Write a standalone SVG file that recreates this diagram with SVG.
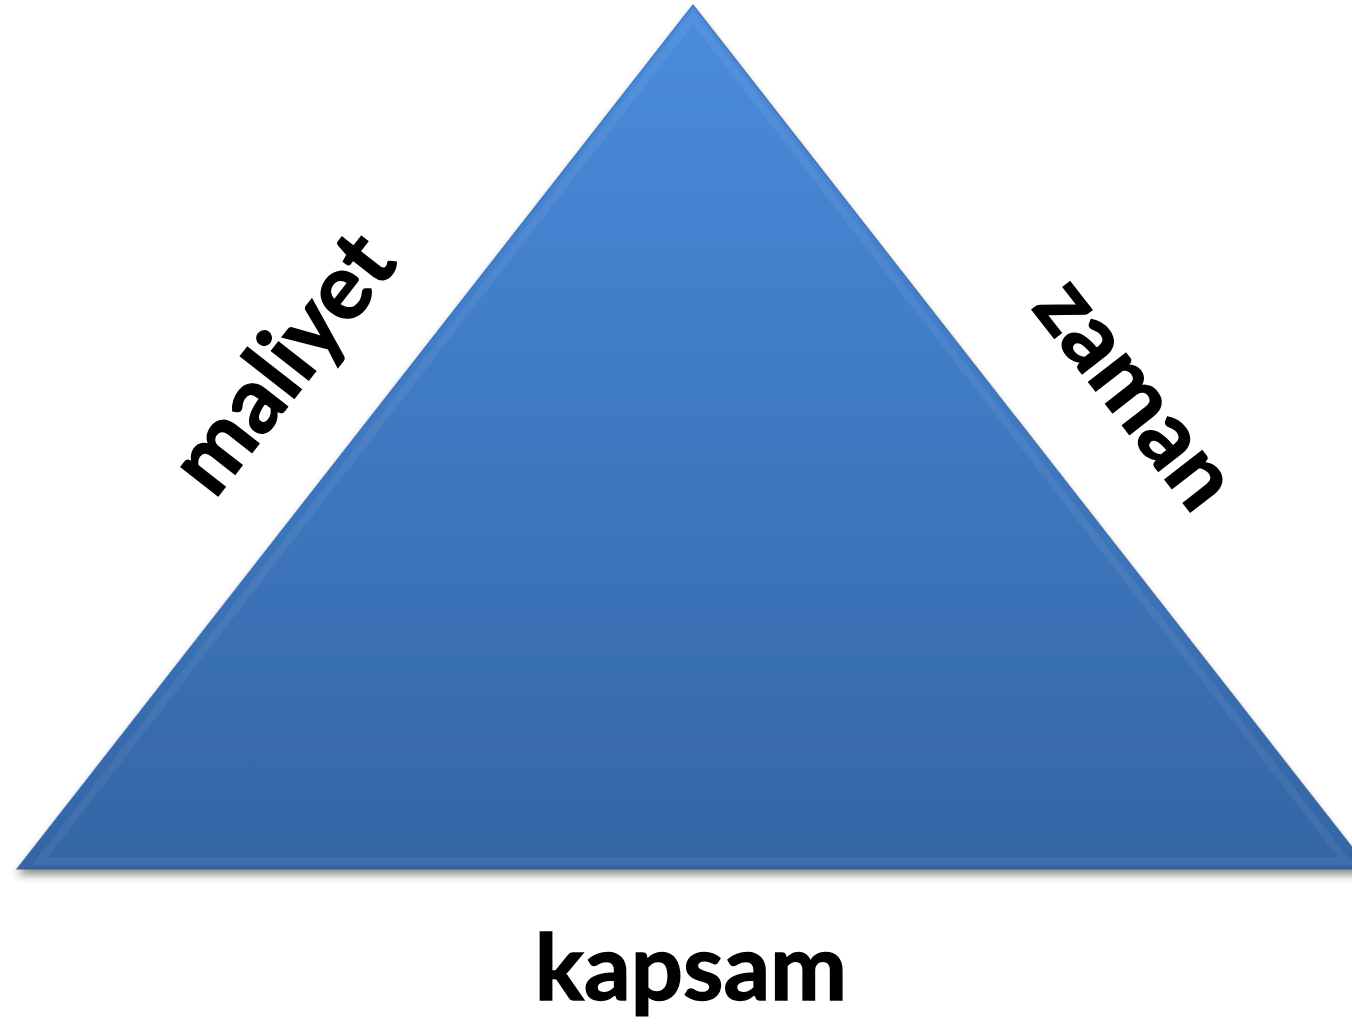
<svg xmlns="http://www.w3.org/2000/svg" width="1352" height="1026" viewBox="0 0 1352 1026">
  <style>
    .lbl { font-family: Lato, "Open Sans", "Liberation Sans", sans-serif; font-weight: bold; fill: #000; stroke: #000; stroke-width: 1.4; text-anchor: middle; }
  </style>
  <defs>
    <linearGradient id="fillGrad" x1="0" y1="0" x2="0" y2="1">
      <stop offset="0" stop-color="#4A8CDD"/>
      <stop offset="1" stop-color="#3465A5"/>
    </linearGradient>
    <filter id="shadow" x="-5%" y="-5%" width="110%" height="115%">
      <feGaussianBlur in="SourceAlpha" stdDeviation="4"/>
      <feOffset dy="6" result="b"/>
      <feComponentTransfer><feFuncA type="linear" slope="0.45"/></feComponentTransfer>
      <feMerge><feMergeNode/><feMergeNode in="SourceGraphic"/></feMerge>
    </filter>
  </defs>
  <rect width="1352" height="1026" fill="#FFFFFF"/>
  <g id="triangle">
    <polygon points="693,5 17,869 1369,869" fill="url(#fillGrad)" filter="url(#shadow)"/>
    <polygon points="693,18 40,861 1346,861" fill="none" stroke="#FFFFFF" stroke-opacity="0.06" stroke-width="8"/>
    <polygon points="693,5 17,869 1369,869" fill="none" stroke="#2E5C96" stroke-opacity="0.6" stroke-width="1.5"/>
  </g>
  <g id="connectors"/>
  <g id="label-maliyet">
    <text class="lbl" font-size="92" transform="translate(307,382) rotate(-52)">maliyet</text>
  </g>
  <g id="label-zaman">
    <text class="lbl" font-size="92" transform="translate(1112,412) rotate(52)">zaman</text>
  </g>
  <g id="label-kapsam">
    <text class="lbl" font-size="92" x="691" y="1000">kapsam</text>
  </g>
</svg>
